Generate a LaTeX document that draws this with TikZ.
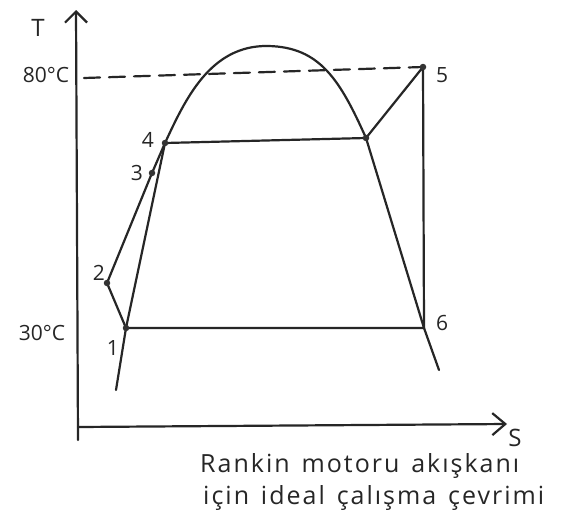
\documentclass[tikz,border=0pt]{standalone}
\usepackage{fontspec}
\setmainfont{Open Sans}
\newfontfamily\captionfont[LetterSpace=8,WordSpace=1.4]{Open Sans}
\usetikzlibrary{arrows.meta}
\begin{document}
\begin{tikzpicture}[x=1pt,y=-1pt,
  ln/.style={line width=2.2pt,draw=black!85,line cap=round,line join=round},
  pt/.style={circle,fill=black!80,inner sep=0pt,minimum size=6.5pt},
  lbl/.style={font=\fontsize{21}{22}\selectfont,text=black!85,inner sep=0pt},
  captxt/.style={font=\captionfont\fontsize{25}{32}\selectfont,text=black!85,inner sep=0pt,anchor=west}]
\useasboundingbox[fill=white] (0,0) rectangle (561,522);
% axes
\coordinate (ty) at (76,10);
\coordinate (sx) at (507,424);
\coordinate (ybot) at (78,440);
\coordinate (xl) at (78,427);
\draw[ln,-{Straight Barb[length=11pt,width=22pt,line width=2.2pt]}] (ybot) -- (ty);
\draw[ln,-{Straight Barb[length=13pt,width=22pt,line width=2.2pt]}] (xl) -- (sx);
\node[lbl,font=\fontsize{24}{24}\selectfont] (T) at (38,28) {T};
\node[lbl,font=\fontsize{24}{24}\selectfont] (S) at (515,438) {S};
% states
\coordinate (p1) at (126,328);
\coordinate (p2) at (107,283);
\coordinate (p3) at (152,173);
\coordinate (p4) at (165,143);
\coordinate (pg) at (366,138);
\coordinate (p5) at (423,67);
\coordinate (p6) at (424,328);
\coordinate (dl) at (84,78);
\coordinate (lb) at (116,390);
\coordinate (rb) at (439,370);
% dome
\draw[ln] (lb) -- (p1) -- (p4)
  .. controls (185,100) and (210,45) .. (268,46)
  .. controls (320,47) and (340,80) .. (pg)
  -- (p6) -- (rb);
% cycle
\draw[ln] (p1) -- (p2) -- (p3) -- (p4) -- (pg) -- (p5) -- (p6) -- (p1);
\draw[ln,dash pattern=on 16pt off 9pt] (dl) -- (p5);
% points
\foreach \p in {p1,p2,p3,p4,pg,p5}{\node[pt] at (\p) {};}
% labels
\node[lbl] (l80) at (46,75) {80°C};
\node[lbl] (l30) at (42,333) {30°C};
\node[lbl] (l1) at (113,348) {1};
\node[lbl] (l2) at (99,273) {2};
\node[lbl] (l3) at (137,173) {3};
\node[lbl] (l4) at (148,140) {4};
\node[lbl] (l5) at (442,75) {5};
\node[lbl] (l6) at (442,323) {6};
\node[captxt] (c1) at (200,466) {Rankin motoru akışkanı};
\node[captxt] (c2) at (203,498) {için ideal çalışma çevrimi};
\end{tikzpicture}
\end{document}
